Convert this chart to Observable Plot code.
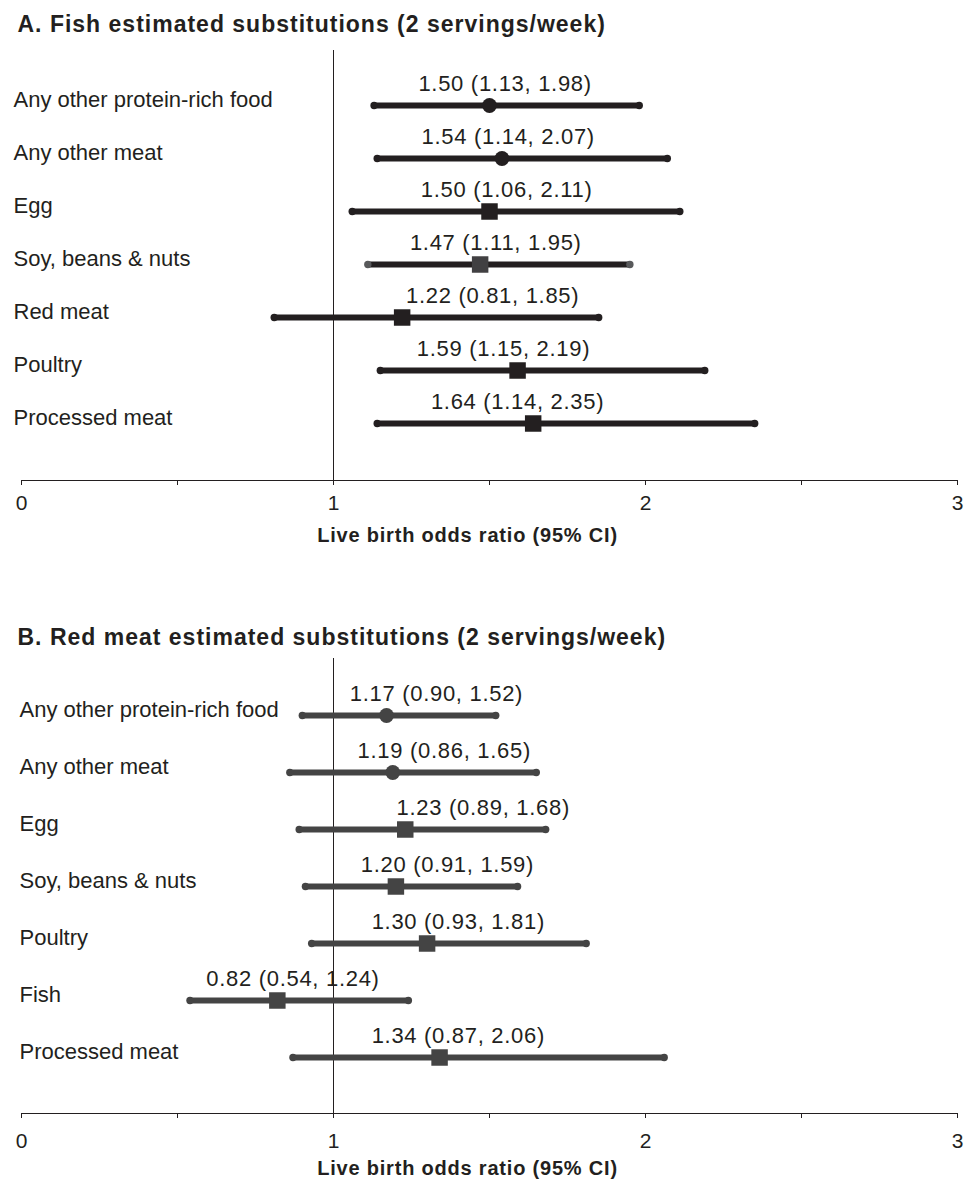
<!DOCTYPE html>
<html><head><meta charset="utf-8">
<script src="https://cdn.jsdelivr.net/npm/d3@7"></script>
<script src="https://cdn.jsdelivr.net/npm/@observablehq/plot@0.6"></script>
<style>
body{margin:0;background:#fff;}
#chart{width:965px;}
svg{display:block;}
</style></head><body><div id="chart"></div>
<script>
// ---- Data ----
const xTicks = [0, 0.5, 1, 1.5, 2, 2.5, 3];
const xTickLabels = ["0", "", "1", "", "2", "", "3"];
const xTitle = "Live birth odds ratio (95% CI)";

const fishTitle = "A. Fish estimated substitutions (2 servings/week)";
const fishLabels = ["Any other protein-rich food", "Any other meat", "Egg", "Soy, beans & nuts", "Red meat", "Poultry", "Processed meat"];
const fishKind = ["aggregate", "aggregate", "single", "single", "single", "single", "single"];
const fishEst = [1.50, 1.54, 1.50, 1.47, 1.22, 1.59, 1.64];
const fishLo = [1.13, 1.14, 1.06, 1.11, 0.81, 1.15, 1.14];
const fishHi = [1.98, 2.07, 2.11, 1.95, 1.85, 2.19, 2.35];
const fishLabelAt = [1.55, 1.56, 1.555, 1.52, 1.51, 1.545, 1.59]; // label anchor (odds-ratio units)

const redTitle = "B. Red meat estimated substitutions (2 servings/week)";
const redLabels = ["Any other protein-rich food", "Any other meat", "Egg", "Soy, beans & nuts", "Poultry", "Fish", "Processed meat"];
const redKind = ["aggregate", "aggregate", "single", "single", "single", "single", "single"];
const redEst = [1.17, 1.19, 1.23, 1.20, 1.30, 0.82, 1.34];
const redLo = [0.90, 0.86, 0.89, 0.91, 0.93, 0.54, 0.87];
const redHi = [1.52, 1.65, 1.68, 1.59, 1.81, 1.24, 2.06];
const redLabelAt = [1.33, 1.355, 1.48, 1.365, 1.40, 0.87, 1.40];

// ---- Rendering ----
const FONT = "'Liberation Sans', Arial, Helvetica, sans-serif";
const fmt = d3.format(".2f");
const estText = d => `${fmt(d.est)} (${fmt(d.lo)}, ${fmt(d.hi)})`;

function panel(cfg) {
  const rows = cfg.labels.map((label, i) => ({
    label, kind: cfg.kind[i], est: cfg.est[i], lo: cfg.lo[i], hi: cfg.hi[i], at: cfg.labelAt[i]
  }));
  const svg = Plot.plot({
    width: 965, height: cfg.height,
    marginTop: cfg.mt, marginBottom: cfg.mb, marginLeft: 21, marginRight: 8,
    style: {fontFamily: FONT, fontSize: "21px", color: "#231f20", background: "#fff"},
    x: {domain: [0, 3], ticks: xTicks, tickFormat: d => xTickLabels[xTicks.indexOf(d)],
        tickSize: 5, tickPadding: cfg.tickPad, line: true, label: null},
    y: {type: "point", domain: cfg.labels, insetTop: cfg.insetTop, insetBottom: cfg.insetBottom, padding: 0, axis: null},
    marks: [
      Plot.ruleX([1], {stroke: "#231f20", strokeWidth: 1}),
      Plot.ruleY(rows, {y: "label", x1: "lo", x2: "hi", stroke: cfg.lineColor, strokeWidth: 5.8}),
      Plot.dot(rows, {y: "label", x: "lo", r: 3.7, fill: cfg.endColor, stroke: null}),
      Plot.dot(rows, {y: "label", x: "hi", r: 3.7, fill: cfg.endColor, stroke: null}),
      Plot.dot(rows.filter(d => d.kind === "aggregate"), {x: "est", y: "label", r: 7.4, symbol: "circle", fill: cfg.markColor, stroke: null}),
      Plot.dot(rows.filter(d => d.kind !== "aggregate"), {x: "est", y: "label", r: 9.3, symbol: "square", fill: cfg.markColor, stroke: null}),
      Plot.text(rows, {x: "at", y: "label", text: estText,
        dy: -22, fontSize: 22, fill: "#231f20"}),
      Plot.text(rows, {y: "label", text: "label", frameAnchor: "left", textAnchor: "start",
        dx: cfg.labelDx, dy: -6, fontSize: 22, fill: "#231f20"}),
      Plot.text([cfg.title], {text: d => d, frameAnchor: "top-left", textAnchor: "start", lineAnchor: "bottom",
        dx: -4, dy: cfg.titleDy, fontSize: 23, fontWeight: "bold", fill: "#231f20"}),
      Plot.text([xTitle], {text: d => d, frameAnchor: "bottom", lineAnchor: "middle",
        dx: -22, dy: cfg.xTitleDy, fontSize: 20, fontWeight: "bold", fill: "#231f20"})
    ]
  });
  const estSet = new Set(rows.map(estText));
  d3.select(svg).selectAll("text").each(function() {
    const t = this.textContent;
    if (estSet.has(t)) this.setAttribute("letter-spacing", "0.7px");
    else if (t === cfg.title) this.setAttribute("letter-spacing", "1px");
    else if (t === xTitle) this.setAttribute("letter-spacing", "0.8px");
  });
  return svg;
}

const chart = document.getElementById("chart");
chart.appendChild(panel({
  title: fishTitle, labels: fishLabels, kind: fishKind, est: fishEst, lo: fishLo, hi: fishHi, labelAt: fishLabelAt,
  height: 600, mt: 50, mb: 120, insetTop: 52, insetBottom: 55, tickPad: 9.5,
  titleDy: -19, xTitleDy: 55, labelDx: -8,
  lineColor: () => "#231f20",
  markColor: d => d.label === "Soy, beans & nuts" ? "#414042" : "#231f20",
  endColor: d => d.label === "Soy, beans & nuts" ? "#58595b" : "#231f20"
}));
chart.appendChild(panel({
  title: redTitle, labels: redLabels, kind: redKind, est: redEst, lo: redLo, hi: redHi, labelAt: redLabelAt,
  height: 589, mt: 58, mb: 76, insetTop: 56, insetBottom: 56, tickPad: 15,
  titleDy: -14, xTitleDy: 55, labelDx: -2,
  lineColor: () => "#444444",
  markColor: () => "#444444",
  endColor: () => "#444444"
}));
</script></body></html>
